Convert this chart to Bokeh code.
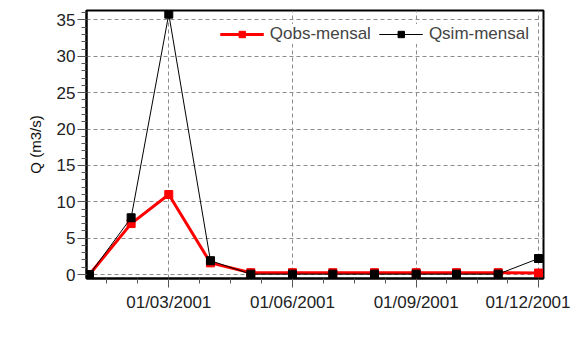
import pandas as pd
from bokeh.plotting import figure
from bokeh.models import (FixedTicker, DatetimeTickFormatter, Legend, LegendItem, Range1d)
from bokeh.embed import file_html
from bokeh.resources import INLINE

# ---- data ----
months = ["2001-01-01", "2001-02-01", "2001-03-01", "2001-04-01", "2001-05-01", "2001-06-01",
          "2001-07-01", "2001-08-01", "2001-09-01", "2001-10-01", "2001-11-01", "2001-12-01"]
qobs = [0.0, 7.0, 11.0, 1.6, 0.25, 0.25, 0.25, 0.25, 0.25, 0.25, 0.25, 0.2]
qsim = [0.0, 7.8, 35.8, 1.9, 0.05, 0.05, 0.05, 0.05, 0.05, 0.05, 0.05, 2.2]
major_tick_dates = ["2001-03-01", "2001-06-01", "2001-09-01", "2001-12-01"]
y_ticks = [0, 5, 10, 15, 20, 25, 30, 35]
series_names = ["Qobs-mensal", "Qsim-mensal"]
y_label = "Q (m3/s)"

x = pd.to_datetime(months)
FONT = "Liberation Sans"

def ms(d):
    return pd.Timestamp(d).value / 1e6

x_start = ms("2001-01-01") - 2.2 * 86400000
x_end = ms("2001-12-01") + 3.7 * 86400000

p = figure(frame_width=457, frame_height=268, x_axis_type="datetime",
           output_backend="svg", toolbar_location=None,
           x_range=Range1d(x_start, x_end), y_range=Range1d(-0.55, 36.3),
           min_border_left=86, min_border_right=27, min_border_top=10, min_border_bottom=40)
p.background_fill_color = "white"
p.border_fill_color = "white"
p.outline_line_color = "black"
p.outline_line_width = 2

# ticks
majors = [ms(d) for d in major_tick_dates]
step = (majors[1] - majors[0]) / 4.0
minors = []
t = majors[0]
while t - step > x_start:
    t -= step
    minors.append(t)
for a, b in zip(majors[:-1], majors[1:]):
    s = (b - a) / 4.0
    minors += [a + k * s for k in range(1, 4)]
p.xaxis.ticker = FixedTicker(ticks=majors, minor_ticks=minors)
fmt = "%d/%m/%Y"
p.xaxis.formatter = DatetimeTickFormatter(milliseconds=fmt, seconds=fmt, minsec=fmt, minutes=fmt,
                                          hourmin=fmt, hours=fmt, days=fmt, months=fmt, years=fmt)
p.yaxis.ticker = FixedTicker(ticks=y_ticks, minor_ticks=[v for v in range(0, 37)])

for ax in (p.xaxis, p.yaxis):
    ax.axis_line_width = 2
    ax.axis_line_color = "black"
    ax.major_tick_out = 9
    ax.major_tick_in = 0
    ax.minor_tick_out = 5
    ax.minor_tick_in = 0
    ax.major_tick_line_color = "#555555"
    ax.minor_tick_line_color = "#555555"
    ax.major_label_text_font = FONT
    ax.major_label_text_font_size = "17px"
    ax.major_label_text_color = "#222222"
p.xaxis.major_label_standoff = 5
p.yaxis.major_label_standoff = 2
p.yaxis.axis_label = y_label
p.yaxis.axis_label_text_font = FONT
p.yaxis.axis_label_text_font_size = "15px"
p.yaxis.axis_label_text_font_style = "normal"
p.yaxis.axis_label_text_color = "#111111"
p.yaxis.axis_label_standoff = 10

p.grid.grid_line_color = "#8c8c8c"
p.grid.grid_line_dash = "4 3"
p.grid.grid_line_width = 1

r1 = p.line(x, qobs, line_color="red", line_width=3)
m1 = p.scatter(x, qobs, marker="square", size=8, fill_color="red", line_color="red")
r2 = p.line(x, qsim, line_color="black", line_width=1)
m2 = p.scatter(x, qsim, marker="square", size=8, fill_color="black", line_color="black")

legend = Legend(items=[LegendItem(label=series_names[0], renderers=[r1, m1]),
                       LegendItem(label=series_names[1], renderers=[r2, m2])],
                orientation="horizontal", location="top_right",
                label_text_font=FONT, label_text_font_size="17px",
                glyph_width=44, glyph_height=16, spacing=8, label_standoff=6,
                border_line_color=None, background_fill_color="white",
                background_fill_alpha=1, margin=14, padding=2)
p.add_layout(legend, "center")

open("out.html", "w").write(file_html(p, INLINE))
